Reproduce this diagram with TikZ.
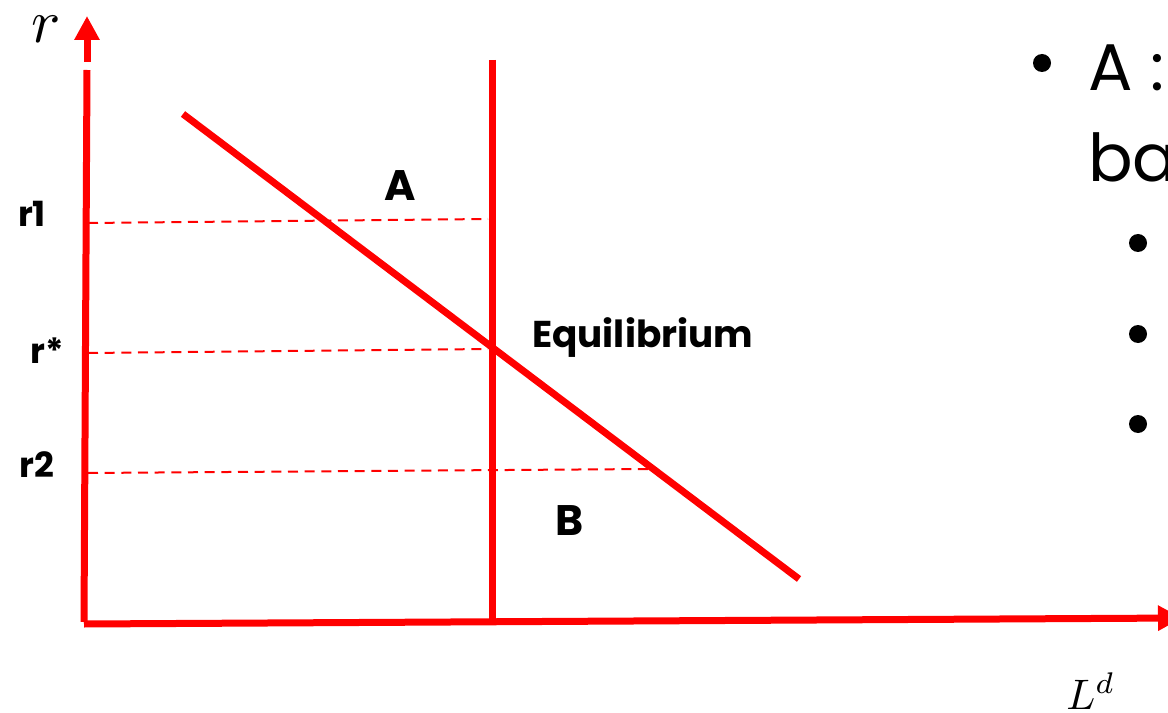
\documentclass[tikz,border=0pt]{standalone}
\usepackage{graphicx}
\usepackage{fontspec}
\newfontfamily\pop{Poppins}
\usetikzlibrary{arrows.meta}
\begin{document}
\begin{tikzpicture}[x=0.75pt,y=-0.75pt,
  axisline/.style={red, line width=5.25pt},
  curveline/.style={red, line width=5.25pt},
  guide/.style={red, line width=1.5pt, dash pattern=on 7.5pt off 5pt},
  lab/.style={font=\pop\bfseries\fontsize{26}{26}\selectfont, inner sep=0pt, anchor=base},
  biglab/.style={font=\pop\bfseries\fontsize{32}{32}\selectfont, inner sep=0pt, anchor=base},
  slide/.style={font=\pop\fontsize{49.5}{49.5}\selectfont, inner sep=0pt, anchor=base west},
  dot/.style={circle, fill=black, inner sep=0pt, minimum size=13.5pt},
  tipped/.style={-{Triangle[length=18pt,width=18pt]}}
]
\useasboundingbox (0,0) rectangle (1168,713);
\begin{scope}
\clip (0,0) rectangle (1168,713);
% axes
\coordinate (origin) at (84,622);
\coordinate (ytop) at (87,70);
\coordinate (yarrowstart) at (87,62);
\coordinate (yarrowtip) at (87,16);
\coordinate (xstart) at (84,624);
\coordinate (xtip) at (1182,618);
\draw[axisline] (origin) -- (ytop);
\draw[axisline, tipped] (yarrowstart) -- (yarrowtip);
\draw[axisline, tipped] (xstart) -- (xtip);
% supply (vertical) line
\coordinate (stop) at (492,60);
\coordinate (sbot) at (492,621);
\draw[curveline] (stop) -- (sbot);
% demand line
\coordinate (dtop) at (183,114);
\coordinate (dbot) at (799,579);
\draw[curveline] (dtop) -- (dbot);
% dashed guides
\coordinate (g1a) at (88,223);
\coordinate (g1b) at (488,219);
\coordinate (g2a) at (88,353);
\coordinate (g2b) at (488,349);
\coordinate (g3a) at (88,473);
\coordinate (g3b) at (648,469);
\draw[guide] (g1a) -- (g1b);
\draw[guide] (g2a) -- (g2b);
\draw[guide] (g3a) -- (g3b);
% labels
\node[lab] (r1) at (32,227) {r1};
\node[lab] (rstar) at (47,363) {r*};
\node[lab] (r2) at (37,477) {r2};
\node[biglab] (A) at (400,201) {A};
\node[biglab] (B) at (570,535) {B};
\node[font=\pop\bfseries\fontsize{28}{28}\selectfont, inner sep=0pt, anchor=base west] (eq) at (532,347) {Equilibrium};
\node[inner sep=0pt, anchor=base] (rlab) at (46,43) {\scalebox{4.6}{$r$}};
\node[inner sep=0pt, anchor=base west] (Llab) at (1066,709) {\scalebox{3.2}{$L^d$}};
% slide text
\node[dot] (b0) at (1042,63) {};
\node[slide] (t1) at (1088,91) {A :};
\node[slide] (t2) at (1088,182) {ba};
\node[dot] (b1) at (1138,243) {};
\node[dot] (b2) at (1138,334) {};
\node[dot] (b3) at (1138,424) {};
\end{scope}
\end{tikzpicture}
\end{document}
